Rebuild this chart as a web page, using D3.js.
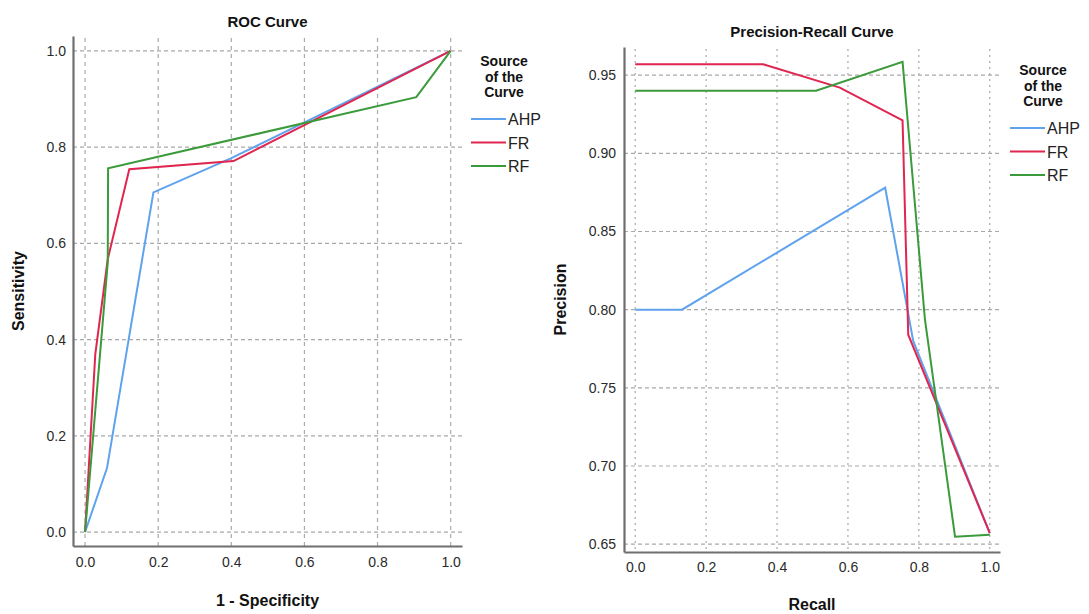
<!DOCTYPE html>
<html>
<head>
<meta charset="utf-8">
<script src="https://cdn.jsdelivr.net/npm/d3@7"></script>
<style>
  body { margin: 0; background: #fff; }
  svg { font-family: "Liberation Sans", Arial, sans-serif; }
</style>
</head>
<body>
<svg id="chart" width="1089" height="614"></svg>
<script>
// series names + colours (same in both panels)
var seriesNames = ['AHP', 'FR', 'RF'];
var seriesColors = ['#5FA2EE', '#E0264F', '#3B9A3B'];

// ROC curve points [1 - specificity, sensitivity]
var rocAHP = [[0, 0], [0.06, 0.133], [0.187, 0.706], [0.40, 0.777], [1, 1]];
var rocFR  = [[0, 0], [0.028, 0.37], [0.062, 0.567], [0.121, 0.754], [0.406, 0.771], [1, 1]];
var rocRF  = [[0, 0], [0.062, 0.56], [0.063, 0.756], [0.906, 0.904], [1, 1]];
var rocTicks = [0, 0.2, 0.4, 0.6, 0.8, 1.0];

// Precision-recall points [recall, precision]
var prAHP = [[0, 0.80], [0.132, 0.80], [0.705, 0.878], [0.784, 0.78], [1, 0.657]];
var prFR  = [[0, 0.957], [0.361, 0.957], [0.577, 0.942], [0.754, 0.921], [0.770, 0.784], [1, 0.657]];
var prRF  = [[0, 0.94], [0.51, 0.94], [0.754, 0.9585], [0.817, 0.794], [0.902, 0.6548], [1, 0.656]];
var prXTicks = [0, 0.2, 0.4, 0.6, 0.8, 1.0];
var prYTicks = [0.65, 0.70, 0.75, 0.80, 0.85, 0.90, 0.95];

var svg = d3.select('#chart');

function drawPanel(opt) {
  var x = d3.scaleLinear().domain(opt.xDomain).range([opt.left, opt.right]);
  var y = d3.scaleLinear().domain(opt.yDomain).range([opt.bottom, opt.top]);
  var g = svg.append('g');

  // grid
  g.selectAll('.vgrid').data(opt.xTicks).enter().append('line')
    .attr('x1', function (d) { return x(d); }).attr('x2', function (d) { return x(d); })
    .attr('y1', opt.top + 2).attr('y2', opt.bottom)
    .attr('stroke', '#a9a9a9').attr('stroke-width', 1.2)
    .attr('stroke-dasharray', opt.vDash);
  g.selectAll('.hgrid').data(opt.yTicks).enter().append('line')
    .attr('x1', opt.left).attr('x2', opt.right)
    .attr('y1', function (d) { return y(d); }).attr('y2', function (d) { return y(d); })
    .attr('stroke', '#a9a9a9').attr('stroke-width', 1.2)
    .attr('stroke-dasharray', '4,3');

  // axes
  var xAxis = g.append('g').attr('transform', 'translate(0,' + opt.bottom + ')')
    .call(d3.axisBottom(x).tickValues(opt.xTicks).tickFormat(d3.format('.1f'))
      .tickSize(0).tickPadding(opt.xPad));
  var yAxis = g.append('g').attr('transform', 'translate(' + opt.left + ',0)')
    .call(d3.axisLeft(y).tickValues(opt.yTicks).tickFormat(d3.format(opt.yFmt))
      .tickSize(0).tickPadding(opt.yPad));
  [xAxis, yAxis].forEach(function (a) {
    a.select('.domain').attr('stroke', '#6e6e6e').attr('stroke-width', 2.2);
    a.selectAll('text').attr('font-size', 14).attr('fill', '#2a2a2a')
      .attr('font-family', '"Liberation Sans", Arial, sans-serif');
  });

  // curves
  var line = d3.line().x(function (d) { return x(d[0]); }).y(function (d) { return y(d[1]); });
  opt.series.forEach(function (s, i) {
    g.append('path').datum(s).attr('d', line)
      .attr('fill', 'none').attr('stroke', seriesColors[i])
      .attr('stroke-width', 2).attr('stroke-linejoin', 'miter');
  });

  // titles
  var mid = (opt.left + opt.right) / 2;
  g.append('text').attr('x', mid).attr('y', opt.titleY).attr('text-anchor', 'middle')
    .attr('font-size', 15).attr('font-weight', 'bold').attr('fill', '#111').text(opt.title);
  g.append('text').attr('x', mid).attr('y', opt.xLabelY).attr('text-anchor', 'middle')
    .attr('font-size', 16).attr('font-weight', 'bold').attr('fill', '#111').text(opt.xLabel);
  g.append('text')
    .attr('transform', 'translate(' + opt.yLabelX + ',' + (opt.top + opt.bottom) / 2 + ') rotate(-90)')
    .attr('text-anchor', 'middle').attr('font-size', 16).attr('font-weight', 'bold')
    .attr('fill', '#111').text(opt.yLabel);

  // legend
  var lg = g.append('g');
  ['Source', 'of the', 'Curve'].forEach(function (t, i) {
    lg.append('text').attr('x', opt.legX + 33).attr('y', opt.legTitleY + i * 15.5)
      .attr('text-anchor', 'middle').attr('font-size', 14).attr('font-weight', 'bold')
      .attr('fill', '#111').text(t);
  });
  seriesNames.forEach(function (n, i) {
    var ly = opt.legY + i * 23.5;
    lg.append('line').attr('x1', opt.legX).attr('x2', opt.legX + 35)
      .attr('y1', ly).attr('y2', ly).attr('stroke', seriesColors[i]).attr('stroke-width', 2);
    lg.append('text').attr('x', opt.legX + 37).attr('y', ly + 6)
      .attr('font-size', 16).attr('fill', '#222').text(n);
  });
}

drawPanel({
  left: 73, right: 462, top: 36, bottom: 546,
  xDomain: [-0.033, 1.031], yDomain: [-0.029, 1.031],
  xTicks: rocTicks, yTicks: rocTicks, yFmt: '.1f',
  xPad: 11, yPad: 7, vDash: '4,4',
  series: [rocAHP, rocFR, rocRF],
  title: 'ROC Curve', titleY: 27,
  xLabel: '1 - Specificity', xLabelY: 606,
  yLabel: 'Sensitivity', yLabelX: 24,
  legX: 471, legTitleY: 66, legY: 119
});

drawPanel({
  left: 624, right: 1000, top: 47, bottom: 552,
  xDomain: [-0.0316, 1.0288], yDomain: [0.645, 0.968],
  xTicks: prXTicks, yTicks: prYTicks, yFmt: '.2f',
  xPad: 10, yPad: 8, vDash: '2,4',
  series: [prAHP, prFR, prRF],
  title: 'Precision-Recall Curve', titleY: 37,
  xLabel: 'Recall', xLabelY: 610,
  yLabel: 'Precision', yLabelX: 566,
  legX: 1010, legTitleY: 75, legY: 128
});
</script>
</body>
</html>
